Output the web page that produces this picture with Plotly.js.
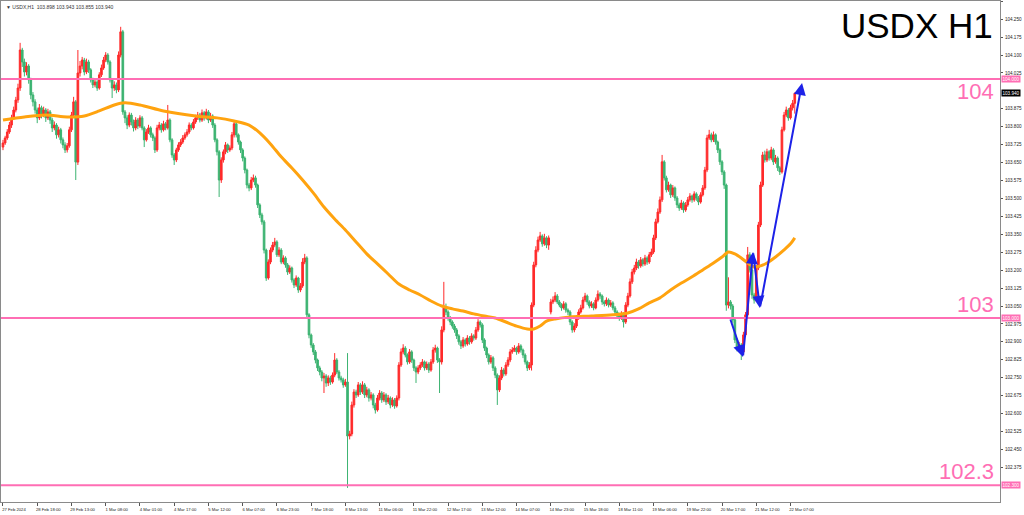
<!DOCTYPE html>
<html>
<head>
<meta charset="utf-8">
<script src="https://cdn.plot.ly/plotly-3.0.1.min.js"></script>
<style>html,body{margin:0;padding:0;background:#fff}#chart{width:1024px;height:515px}</style>
</head>
<body>
<div id="chart"></div>
<script>
// ---- Data (USDX, H1) ----
const symbol = 'USDX,H1';
const titleText = 'USDX H1';
const tickLabels = ['27 Feb 2024','28 Feb 18:00','29 Feb 13:00','1 Mar 08:00','4 Mar 01:00','4 Mar 17:00','5 Mar 12:00','6 Mar 07:00','6 Mar 23:00','7 Mar 18:00','8 Mar 13:00','11 Mar 06:00','11 Mar 22:00','12 Mar 17:00','13 Mar 12:00','14 Mar 07:00','14 Mar 23:00','15 Mar 18:00','18 Mar 11:00','19 Mar 06:00','19 Mar 22:00','20 Mar 17:00','21 Mar 12:00','22 Mar 07:00'];
const barsPerTick = 16;
const priceTickStart = 102.225, priceTickStep = 0.075, priceTickEnd = 104.325;

const opens = [
103.715,103.732,103.753,103.778,103.807,103.837,103.870,103.912,103.962,104.121,
104.071,104.029,104.054,103.996,103.933,103.904,103.870,103.837,103.879,103.849,
103.870,103.837,103.862,103.828,103.795,103.807,103.766,103.787,103.745,103.724,
103.703,103.720,103.787,103.849,103.904,103.652,104.025,104.054,104.079,104.029,
104.071,104.038,103.996,103.975,103.987,103.962,104.017,104.046,104.079,104.100,
104.071,103.996,103.962,103.975,103.954,104.100,104.197,103.862,103.837,103.807,
103.849,103.820,103.795,103.828,103.803,103.837,103.795,103.745,103.778,103.795,
103.766,103.753,103.703,103.795,103.807,103.787,103.812,103.795,103.828,103.745,
103.682,103.661,103.703,103.724,103.736,103.753,103.766,103.778,103.807,103.795,
103.820,103.837,103.849,103.828,103.858,103.837,103.862,103.828,103.845,103.807,
103.745,103.695,103.577,103.661,103.695,103.724,103.703,103.711,103.766,103.812,
103.766,103.736,103.703,103.669,103.619,103.556,103.544,103.577,103.586,103.556,
103.473,103.431,103.402,103.284,103.167,103.234,103.284,103.305,103.318,103.264,
103.284,103.234,103.251,103.222,103.192,103.209,103.159,103.138,103.167,103.117,
103.134,103.234,103.251,103.013,102.929,102.887,102.858,102.824,102.791,102.774,
102.749,102.757,102.728,102.749,102.732,102.761,102.824,102.774,102.749,102.741,
102.720,102.732,102.506,102.515,102.636,102.690,102.678,102.720,102.690,102.720,
102.678,102.699,102.665,102.678,102.636,102.615,102.665,102.686,102.657,102.678,
102.649,102.665,102.636,102.657,102.632,102.665,102.803,102.858,102.874,102.845,
102.816,102.858,102.824,102.791,102.774,102.791,102.803,102.816,102.791,102.807,
102.782,102.816,102.866,102.874,102.824,102.816,102.950,103.042,103.025,103.000,
102.983,102.966,102.950,102.925,102.900,102.883,102.908,102.891,102.916,102.900,
102.925,102.916,102.950,102.983,102.971,102.908,102.874,102.845,102.816,102.833,
102.791,102.761,102.699,102.749,102.782,102.766,102.803,102.824,102.858,102.866,
102.874,102.858,102.883,102.866,102.845,102.816,102.791,102.803,103.054,103.222,
103.284,103.326,103.343,103.310,103.335,103.305,103.025,103.067,103.075,103.092,
103.067,103.054,103.042,103.059,103.033,103.025,102.983,102.950,102.966,103.000,
103.025,103.042,103.075,103.092,103.067,103.050,103.059,103.042,103.075,103.100,
103.092,103.067,103.059,103.075,103.054,103.063,103.042,103.025,103.008,103.000,
103.017,102.983,103.054,103.092,103.151,103.192,103.209,103.234,103.218,103.243,
103.226,103.251,103.234,103.264,103.276,103.335,103.402,103.443,103.494,103.653,
103.586,103.536,103.556,103.515,103.544,103.502,103.473,103.460,103.481,103.452,
103.473,103.494,103.510,103.494,103.519,103.502,103.485,103.515,103.544,103.619,
103.753,103.766,103.745,103.766,103.736,103.703,103.653,103.611,103.556,103.054,
103.067,103.050,102.992,102.908,102.874,102.887,102.858,102.929,103.013,103.264,
103.201,103.096,103.075,103.209,103.389,103.556,103.682,103.661,103.695,103.669,
103.703,103.653,103.669,103.628,103.611,103.787,103.849,103.870,103.837,103.879,
103.898];

const highs = [
103.745,103.762,103.790,103.820,103.850,103.884,103.925,103.980,104.151,104.130,
104.085,104.070,104.062,104.005,103.945,103.915,103.880,103.895,103.888,103.884,
103.878,103.875,103.870,103.838,103.822,103.815,103.800,103.795,103.755,103.735,
103.732,103.800,103.862,103.925,103.912,104.121,104.075,104.092,104.088,104.085,
104.080,104.045,104.005,103.998,103.995,104.028,104.060,104.092,104.112,104.108,
104.078,104.004,103.990,103.985,104.115,104.218,104.205,103.870,103.848,103.860,
103.858,103.830,103.840,103.836,103.848,103.845,103.802,103.790,103.808,103.802,
103.775,103.760,103.808,103.820,103.815,103.825,103.820,103.891,103.835,103.752,
103.690,103.712,103.735,103.748,103.765,103.776,103.790,103.818,103.815,103.832,
103.850,103.862,103.858,103.872,103.866,103.875,103.870,103.858,103.852,103.815,
103.752,103.702,103.672,103.705,103.736,103.730,103.722,103.778,103.825,103.820,
103.772,103.742,103.710,103.676,103.625,103.565,103.590,103.600,103.595,103.562,
103.480,103.440,103.410,103.290,103.245,103.295,103.318,103.335,103.325,103.296,
103.292,103.262,103.258,103.230,103.220,103.215,103.166,103.178,103.172,103.146,
103.250,103.268,103.258,103.020,102.935,102.895,102.866,102.830,102.800,102.782,
102.770,102.765,102.760,102.758,102.772,102.853,102.832,102.782,102.758,102.750,
102.745,102.853,102.528,102.650,102.702,102.700,102.732,102.728,102.735,102.728,
102.712,102.706,102.690,102.685,102.645,102.678,102.698,102.694,102.690,102.685,
102.678,102.672,102.668,102.665,102.676,102.815,102.872,102.890,102.882,102.852,
102.870,102.865,102.830,102.798,102.802,102.815,102.828,102.822,102.818,102.815,
102.828,102.878,102.888,102.880,102.832,102.965,103.151,103.060,103.032,103.008,
102.990,102.975,102.958,102.932,102.908,102.920,102.915,102.928,102.924,102.936,
102.932,102.962,102.995,102.990,102.978,102.915,102.880,102.852,102.845,102.840,
102.798,102.768,102.760,102.795,102.790,102.815,102.836,102.870,102.878,102.886,
102.880,102.895,102.890,102.872,102.852,102.822,102.815,103.065,103.235,103.300,
103.340,103.360,103.350,103.352,103.342,103.345,103.080,103.090,103.108,103.100,
103.075,103.062,103.070,103.066,103.040,103.032,102.990,102.978,103.012,103.036,
103.055,103.088,103.105,103.098,103.074,103.070,103.066,103.086,103.115,103.108,
103.098,103.074,103.086,103.082,103.075,103.070,103.050,103.032,103.016,103.028,
103.024,103.066,103.105,103.165,103.205,103.222,103.248,103.242,103.255,103.250,
103.264,103.258,103.276,103.290,103.348,103.415,103.458,103.508,103.682,103.660,
103.595,103.570,103.562,103.556,103.550,103.510,103.482,103.494,103.488,103.485,
103.506,103.522,103.516,103.530,103.526,103.510,103.526,103.556,103.632,103.766,
103.787,103.775,103.780,103.772,103.742,103.710,103.660,103.618,103.562,103.170,
103.075,103.058,103.000,102.915,102.900,102.895,102.942,103.025,103.297,103.275,
103.210,103.105,103.222,103.402,103.570,103.695,103.700,103.708,103.702,103.716,
103.710,103.682,103.676,103.636,103.800,103.862,103.884,103.878,103.892,103.912,
103.943];

const lows = [
103.702,103.724,103.745,103.770,103.795,103.828,103.860,103.900,103.950,104.050,
104.010,104.015,103.980,103.915,103.885,103.855,103.815,103.828,103.835,103.840,
103.820,103.828,103.812,103.778,103.785,103.750,103.755,103.730,103.710,103.690,
103.692,103.712,103.778,103.840,103.577,103.640,104.010,104.040,104.015,104.020,
104.025,103.985,103.962,103.965,103.950,103.955,104.008,104.038,104.070,104.060,
103.985,103.920,103.950,103.940,103.945,104.090,103.850,103.815,103.790,103.798,
103.805,103.780,103.785,103.790,103.795,103.785,103.715,103.738,103.770,103.755,
103.740,103.690,103.695,103.785,103.775,103.780,103.785,103.788,103.735,103.670,
103.640,103.652,103.695,103.715,103.728,103.745,103.758,103.770,103.785,103.788,
103.812,103.828,103.818,103.820,103.825,103.830,103.815,103.820,103.795,103.735,
103.680,103.506,103.565,103.650,103.685,103.690,103.695,103.702,103.755,103.755,
103.725,103.690,103.655,103.605,103.542,103.530,103.535,103.568,103.545,103.460,
103.418,103.390,103.270,103.155,103.160,103.225,103.275,103.296,103.255,103.255,
103.225,103.225,103.210,103.180,103.184,103.148,103.125,103.130,103.105,103.108,
103.126,103.225,103.000,102.915,102.875,102.845,102.810,102.778,102.760,102.735,
102.686,102.712,102.715,102.720,102.725,102.752,102.765,102.738,102.730,102.708,
102.712,102.289,102.492,102.505,102.625,102.665,102.670,102.678,102.682,102.665,
102.668,102.650,102.655,102.622,102.600,102.608,102.655,102.645,102.648,102.636,
102.640,102.622,102.628,102.620,102.625,102.655,102.795,102.848,102.835,102.805,
102.808,102.812,102.778,102.728,102.765,102.782,102.795,102.780,102.782,102.770,
102.775,102.808,102.855,102.812,102.686,102.805,102.940,103.012,102.988,102.970,
102.955,102.938,102.912,102.888,102.870,102.875,102.880,102.884,102.888,102.892,
102.905,102.908,102.942,102.960,102.895,102.862,102.832,102.805,102.808,102.778,
102.748,102.636,102.690,102.740,102.755,102.758,102.795,102.815,102.850,102.858,
102.846,102.850,102.855,102.832,102.805,102.778,102.782,102.780,103.045,103.212,
103.275,103.318,103.298,103.302,103.292,103.285,103.015,103.058,103.066,103.058,
103.045,103.030,103.035,103.022,103.012,102.970,102.938,102.940,102.958,102.992,
103.018,103.035,103.066,103.055,103.040,103.042,103.032,103.036,103.068,103.080,
103.055,103.048,103.050,103.044,103.046,103.032,103.014,102.996,102.988,102.992,
102.960,102.975,103.045,103.085,103.142,103.182,103.200,103.206,103.210,103.215,
103.218,103.222,103.226,103.255,103.268,103.326,103.395,103.435,103.485,103.575,
103.525,103.528,103.502,103.506,103.490,103.460,103.448,103.452,103.440,103.444,
103.465,103.486,103.482,103.486,103.490,103.472,103.478,103.508,103.536,103.610,
103.745,103.735,103.736,103.725,103.690,103.640,103.598,103.540,103.030,103.040,
103.035,102.980,102.895,102.860,102.866,102.824,102.850,102.920,103.005,103.190,
103.080,103.060,103.068,103.200,103.380,103.548,103.650,103.652,103.658,103.660,
103.640,103.645,103.615,103.598,103.604,103.780,103.840,103.825,103.830,103.868,
103.855];

const closes = [
103.732,103.753,103.778,103.807,103.837,103.870,103.912,103.962,104.121,104.071,
104.029,104.054,103.996,103.933,103.904,103.870,103.837,103.879,103.849,103.870,
103.837,103.862,103.828,103.795,103.807,103.766,103.787,103.745,103.724,103.703,
103.720,103.787,103.849,103.904,103.652,104.025,104.054,104.079,104.029,104.071,
104.038,103.996,103.975,103.987,103.962,104.017,104.046,104.079,104.100,104.071,
103.996,103.962,103.975,103.954,104.100,104.197,103.862,103.837,103.807,103.849,
103.820,103.795,103.828,103.803,103.837,103.795,103.745,103.778,103.795,103.766,
103.753,103.703,103.795,103.807,103.787,103.812,103.795,103.828,103.745,103.682,
103.661,103.703,103.724,103.736,103.753,103.766,103.778,103.807,103.795,103.820,
103.837,103.849,103.828,103.858,103.837,103.862,103.828,103.845,103.807,103.745,
103.695,103.577,103.661,103.695,103.724,103.703,103.711,103.766,103.812,103.766,
103.736,103.703,103.669,103.619,103.556,103.544,103.577,103.586,103.556,103.473,
103.431,103.402,103.284,103.167,103.234,103.284,103.305,103.318,103.264,103.284,
103.234,103.251,103.222,103.192,103.209,103.159,103.138,103.167,103.117,103.134,
103.234,103.251,103.013,102.929,102.887,102.858,102.824,102.791,102.774,102.749,
102.757,102.728,102.749,102.732,102.761,102.824,102.774,102.749,102.741,102.720,
102.732,102.506,102.515,102.636,102.690,102.678,102.720,102.690,102.720,102.678,
102.699,102.665,102.678,102.636,102.615,102.665,102.686,102.657,102.678,102.649,
102.665,102.636,102.657,102.632,102.665,102.803,102.858,102.874,102.845,102.816,
102.858,102.824,102.791,102.774,102.791,102.803,102.816,102.791,102.807,102.782,
102.816,102.866,102.874,102.824,102.816,102.950,103.042,103.025,103.000,102.983,
102.966,102.950,102.925,102.900,102.883,102.908,102.891,102.916,102.900,102.925,
102.916,102.950,102.983,102.971,102.908,102.874,102.845,102.816,102.833,102.791,
102.761,102.699,102.749,102.782,102.766,102.803,102.824,102.858,102.866,102.874,
102.858,102.883,102.866,102.845,102.816,102.791,102.803,103.054,103.222,103.284,
103.326,103.343,103.310,103.335,103.305,103.335,103.067,103.075,103.092,103.067,
103.054,103.042,103.059,103.033,103.025,102.983,102.950,102.966,103.000,103.025,
103.042,103.075,103.092,103.067,103.050,103.059,103.042,103.075,103.100,103.092,
103.067,103.059,103.075,103.054,103.063,103.042,103.025,103.008,103.000,103.017,
102.983,103.054,103.092,103.151,103.192,103.209,103.234,103.218,103.243,103.226,
103.251,103.234,103.264,103.276,103.335,103.402,103.443,103.494,103.653,103.586,
103.536,103.556,103.515,103.544,103.502,103.473,103.460,103.481,103.452,103.473,
103.494,103.510,103.494,103.519,103.502,103.485,103.515,103.544,103.619,103.753,
103.766,103.745,103.766,103.736,103.703,103.653,103.611,103.556,103.054,103.067,
103.050,102.992,102.908,102.874,102.887,102.858,102.929,103.013,103.264,103.201,
103.096,103.075,103.209,103.389,103.556,103.682,103.661,103.695,103.669,103.703,
103.653,103.669,103.628,103.611,103.787,103.849,103.870,103.837,103.879,103.898,
103.940];

// Moving average (orange) read at selected bars
const maIdx = [0,10,20,30,38,45,52,57,64,75,90,100,108,115,120,125,130,135,140,145,150,155,160,165,170,175,180,185,190,195,200,205,210,215,220,225,230,235,240,245,248,251,254,258,265,275,285,292,297,302,307,312,317,322,327,332,336,339,342,345,348,351,354,357,361,365,368,370];
const maVal = [103.828,103.841,103.849,103.841,103.845,103.866,103.891,103.900,103.891,103.866,
103.845,103.837,103.824,103.807,103.774,103.728,103.674,103.627,103.577,103.523,
103.464,103.414,103.368,103.318,103.268,103.226,103.184,103.142,103.117,103.096,
103.071,103.050,103.038,103.029,103.017,103.008,103.000,102.983,102.966,102.954,
102.954,102.966,102.987,102.996,103.004,103.008,103.013,103.021,103.038,103.063,
103.084,103.117,103.146,103.172,103.201,103.230,103.255,103.276,103.268,103.251,
103.230,103.213,103.218,103.230,103.255,103.285,103.310,103.335];

// Horizontal levels
const levels = [104.0, 103.0, 102.3];
const levelLabels = ['104', '103', '102.3'];

// Blue path (waypoints: bar index, price)
const pathIdx = [339.7, 345.8, 350.5, 353.7, 373.4];
const pathPx  = [103.000, 102.837, 103.276, 103.042, 103.983];

// ---- Build ----
const N = closes.length;
const xs = closes.map((_, i) => i);
const last = N - 1;
const pink = '#ff6eb4';
const font = 'Liberation Sans, Arial, sans-serif';

// price ticks, hidden where a price box covers them (as in the terminal)
const boxed = levels.concat([closes[last]]);
const priceTicks = [];
for (let k = 0; priceTickStart + k * priceTickStep <= priceTickEnd + 1e-9; k++) {
  const v = +(priceTickStart + k * priceTickStep).toFixed(3);
  if (!boxed.some(b => Math.abs(b - v) < 0.015)) priceTicks.push(v);
}

const traces = [
  {
    type: 'candlestick', x: xs, open: opens, high: highs, low: lows, close: closes,
    increasing: {line: {color: '#ff2a2a', width: 1}, fillcolor: '#ff2a2a'},
    decreasing: {line: {color: '#3cb371', width: 1}, fillcolor: '#3cb371'},
    whiskerwidth: 0, hoverinfo: 'skip', showlegend: false
  },
  {
    type: 'scatter', mode: 'lines', x: maIdx, y: maVal,
    line: {color: '#ffa30f', width: 3, shape: 'spline', smoothing: 0.8},
    hoverinfo: 'skip', showlegend: false
  }
];

const shapes = levels.map(v => ({
  type: 'line', xref: 'paper', x0: 0, x1: 1, yref: 'y', y0: v, y1: v,
  line: {color: pink, width: 2}
}));
// light grey strip under the time scale
shapes.push({type: 'rect', xref: 'paper', yref: 'paper', x0: -0.01, x1: 1.03, y0: -0.026, y1: -0.05,
  fillcolor: '#f0f0f0', line: {width: 0}, layer: 'below'});

const annotations = [];
levels.forEach((v, k) => {
  annotations.push({
    xref: 'paper', x: 0.996, xanchor: 'right', yref: 'y', y: v,
    yanchor: k === 0 ? 'top' : 'bottom', yshift: k === 0 ? 2 : -1,
    text: levelLabels[k], showarrow: false,
    font: {family: font, size: 22, color: pink}
  });
  annotations.push({
    xref: 'paper', x: 1, xanchor: 'left', xshift: 1, yref: 'y', y: v, yanchor: 'middle',
    text: v.toFixed(3), showarrow: false, bgcolor: pink, borderpad: 0.5,
    font: {family: font, size: 4.6, color: '#ffffff'}
  });
});
annotations.push({
  xref: 'paper', x: 1, xanchor: 'left', xshift: 1, yref: 'y', y: closes[last], yanchor: 'middle',
  text: closes[last].toFixed(3), showarrow: false, bgcolor: '#000000', borderpad: 0.5,
  font: {family: font, size: 4.6, color: '#ffffff'}
});
annotations.push({
  xref: 'paper', x: 0.995, xanchor: 'right', yref: 'paper', y: 1, yanchor: 'top', yshift: -3,
  text: titleText, showarrow: false,
  font: {family: font, size: 35, color: '#000000'}
});
annotations.push({
  xref: 'paper', x: 0, xanchor: 'left', xshift: 3, yref: 'paper', y: 1, yanchor: 'top', yshift: -1,
  text: '\u25BC ' + symbol + '  ' + opens[last].toFixed(3) + ' ' + highs[last].toFixed(3) + ' ' + lows[last].toFixed(3) + ' ' + closes[last].toFixed(3),
  showarrow: false,
  font: {family: font, size: 5, color: '#333333'}
});
for (let k = 1; k < pathIdx.length; k++) {
  annotations.push({
    xref: 'x', yref: 'y', axref: 'x', ayref: 'y',
    x: pathIdx[k], y: pathPx[k], ax: pathIdx[k-1], ay: pathPx[k-1],
    text: '', showarrow: true, arrowhead: 2, arrowsize: 1.2, arrowwidth: 2,
    arrowcolor: '#1d22e8', standoff: 0, startstandoff: 0
  });
}

const layout = {
  width: 1024, height: 515,
  margin: {l: 1, r: 24, t: 1, b: 13},
  paper_bgcolor: '#ffffff', plot_bgcolor: '#ffffff',
  showlegend: false,
  boxgap: 0.15, boxgroupgap: 0.1,
  xaxis: {
    type: 'linear', range: [-0.93, 465.9], rangeslider: {visible: false},
    showgrid: false, zeroline: false,
    tickmode: 'array', tickvals: tickLabels.map((_, k) => k * barsPerTick), ticktext: tickLabels,
    ticks: 'outside', ticklen: 3, tickcolor: '#555', tickwidth: 1,
    ticklabelshift: 11, ticklabelstandoff: 0,
    tickfont: {family: font, size: 4.2, color: '#222'},
    showline: true, linecolor: '#8a8a8a', linewidth: 1, mirror: true
  },
  yaxis: {
    side: 'right', range: [102.230, 104.326],
    tickmode: 'array', tickvals: priceTicks, ticktext: priceTicks.map(v => v.toFixed(3)),
    showgrid: false, zeroline: false,
    ticks: 'outside', ticklen: 2, tickcolor: '#555',
    ticklabelstandoff: 1,
    tickfont: {family: font, size: 4.6, color: '#222'},
    showline: true, linecolor: '#8a8a8a', linewidth: 1, mirror: true
  },
  shapes: shapes,
  annotations: annotations
};

Plotly.newPlot('chart', traces, layout, {staticPlot: true, displayModeBar: false});
</script>
</body>
</html>
